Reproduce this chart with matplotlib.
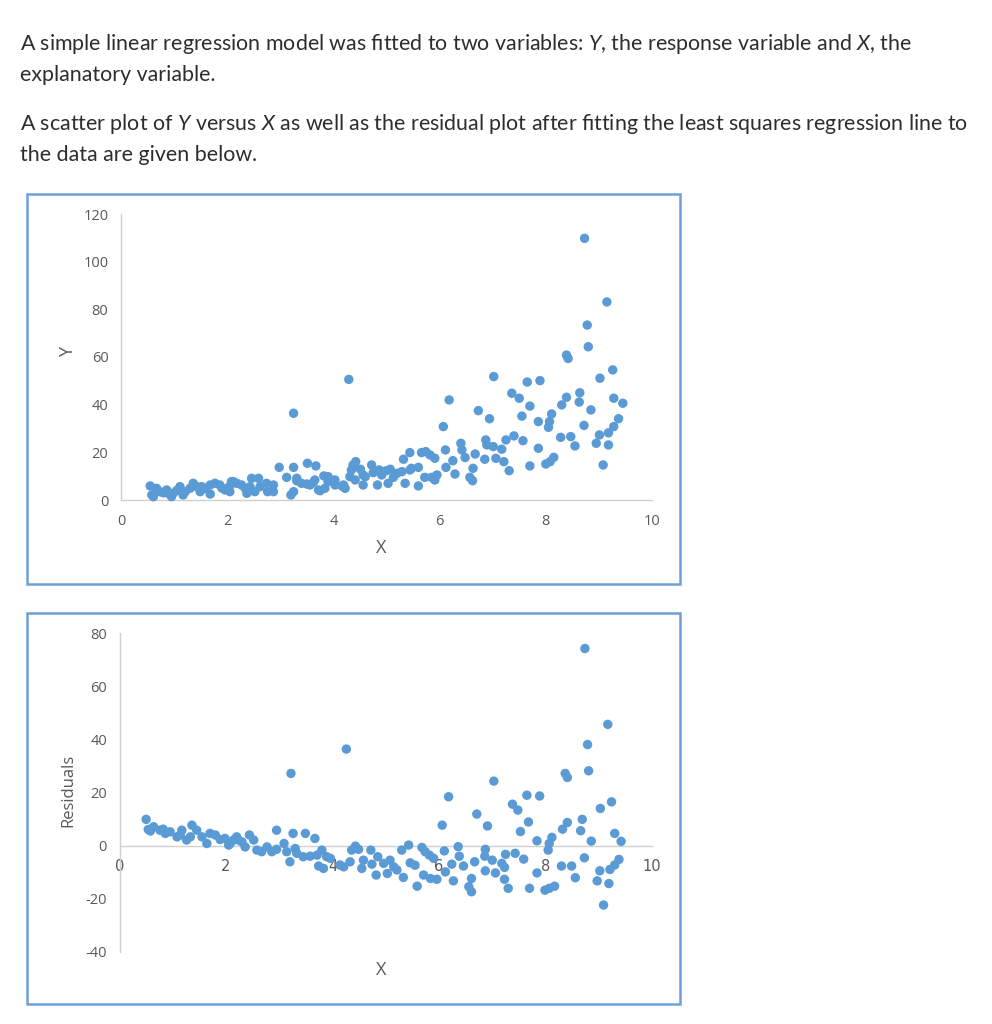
import matplotlib
matplotlib.use("Agg")
import matplotlib.pyplot as plt
from matplotlib.patches import Rectangle

plt.rcParams['mathtext.fontset'] = 'custom'
plt.rcParams['mathtext.rm'] = 'Lato'
plt.rcParams['mathtext.it'] = 'Lato:italic'
plt.rcParams['axes.unicode_minus'] = False

# scatter plot of Y versus X
x_top = [0.55, 0.58, 0.61, 0.67, 0.73, 0.80, 0.86, 0.89, 0.95, 0.98, 1.05, 1.11, 1.17, 1.21,
         1.30, 1.36, 1.43, 1.49, 1.52, 1.58, 1.68, 1.68, 1.77, 1.86, 1.90, 1.96, 2.04, 2.05,
         2.08, 2.12, 2.18, 2.27, 2.34, 2.37, 2.43, 2.46, 2.52, 2.59, 2.62, 2.74, 2.76, 2.87,
         2.87, 2.98, 3.12, 3.20, 3.25, 3.25, 3.25, 3.31, 3.31, 3.40, 3.50, 3.51, 3.56, 3.62,
         3.65, 3.67, 3.72, 3.75, 3.82, 3.84, 3.90, 3.90, 4.03, 4.03, 4.16, 4.19, 4.22, 4.29,
         4.31, 4.34, 4.37, 4.42, 4.41, 4.51, 4.56, 4.56, 4.60, 4.72, 4.75, 4.83, 4.86, 4.91,
         5.00, 5.03, 5.07, 5.13, 5.20, 5.29, 5.32, 5.35, 5.44, 5.44, 5.47, 5.60, 5.60, 5.66,
         5.74, 5.72, 5.82, 5.85, 5.91, 5.91, 5.95, 6.07, 6.11, 6.12, 6.18, 6.25, 6.29, 6.40,
         6.42, 6.48, 6.57, 6.62, 6.63, 6.67, 6.73, 6.85, 6.87, 6.89, 6.94, 7.01, 7.02, 7.06,
         7.17, 7.21, 7.25, 7.31, 7.36, 7.40, 7.50, 7.55, 7.57, 7.65, 7.70, 7.70, 7.86, 7.86,
         7.89, 8.00, 8.05, 8.07, 8.08, 8.11, 8.15, 8.28, 8.30, 8.39, 8.39, 8.42, 8.47, 8.55,
         8.63, 8.64, 8.72, 8.73, 8.78, 8.80, 8.85, 8.95, 9.01, 9.02, 9.08, 9.15, 9.18, 9.18,
         9.26, 9.28, 9.28, 9.37, 9.45]
y_top = [5.9, 2.1, 1.4, 4.9, 3.5, 3.0, 4.2, 2.8, 1.4, 2.8, 4.0, 5.6, 2.1, 3.5,
         4.9, 7.0, 5.6, 3.5, 5.6, 4.9, 6.3, 2.5, 7.0, 6.3, 5.0, 4.2, 5.6, 3.5,
         7.7, 7.7, 7.0, 6.3, 4.9, 2.8, 5.6, 9.1, 3.5, 9.1, 5.6, 7.0, 3.5, 6.3,
         3.5, 13.7, 9.5, 2.1, 36.4, 13.7, 3.5, 8.1, 9.1, 7.0, 6.7, 15.4, 6.3, 7.3,
         8.4, 14.3, 4.2, 3.9, 10.1, 4.9, 7.7, 9.8, 8.4, 6.3, 5.9, 6.3, 4.9, 50.6,
         9.8, 12.6, 14.7, 16.1, 8.4, 12.9, 10.5, 6.3, 9.8, 14.7, 11.5, 6.3, 12.6, 10.5,
         12.3, 7.0, 12.9, 9.5, 11.2, 11.9, 17.1, 7.0, 19.9, 12.6, 13.3, 13.7, 5.9, 19.9,
         20.3, 9.5, 18.9, 9.5, 17.5, 8.4, 10.5, 30.8, 21.0, 13.7, 42.0, 16.5, 10.9, 23.8,
         21.0, 17.8, 9.5, 8.1, 13.3, 19.3, 37.5, 17.1, 25.2, 23.1, 34.1, 22.4, 51.8, 17.5,
         21.3, 16.1, 25.2, 12.3, 44.8, 26.9, 42.7, 35.2, 24.9, 49.5, 39.4, 14.3, 32.9, 21.7,
         50.1, 15.1, 30.5, 32.9, 16.1, 36.1, 17.9, 26.3, 39.9, 43.1, 60.8, 59.4, 26.6, 22.7,
         41.1, 45.0, 31.3, 109.8, 73.4, 64.3, 37.8, 23.8, 27.3, 51.1, 14.7, 83.1, 28.2, 23.1,
         54.6, 42.7, 30.8, 34.1, 40.6]

# residual plot
x_res = [0.50, 0.54, 0.58, 0.64, 0.76, 0.82, 0.86, 0.95, 1.08, 1.14, 1.17, 1.26, 1.33, 1.36,
         1.45, 1.55, 1.64, 1.70, 1.80, 1.89, 1.98, 2.05, 2.08, 2.14, 2.20, 2.23, 2.30, 2.36,
         2.44, 2.52, 2.58, 2.67, 2.77, 2.86, 2.95, 2.95, 3.09, 3.14, 3.20, 3.22, 3.26, 3.30,
         3.33, 3.45, 3.49, 3.58, 3.67, 3.71, 3.74, 3.80, 3.83, 3.89, 3.96, 4.14, 4.21, 4.26,
         4.33, 4.36, 4.43, 4.49, 4.55, 4.58, 4.72, 4.74, 4.82, 4.85, 4.96, 5.03, 5.08, 5.15,
         5.21, 5.30, 5.33, 5.43, 5.46, 5.55, 5.59, 5.68, 5.74, 5.82, 5.90, 5.71, 5.84, 5.96,
         6.06, 6.10, 6.12, 6.18, 6.24, 6.27, 6.36, 6.38, 6.46, 6.56, 6.61, 6.61, 6.67, 6.71,
         6.86, 6.87, 6.87, 6.91, 7.00, 7.03, 7.06, 7.18, 7.23, 7.23, 7.25, 7.30, 7.38, 7.43,
         7.48, 7.53, 7.59, 7.65, 7.68, 7.70, 7.84, 7.84, 7.89, 7.99, 8.05, 8.07, 8.07, 8.12,
         8.17, 8.30, 8.32, 8.37, 8.41, 8.41, 8.49, 8.56, 8.66, 8.69, 8.73, 8.74, 8.79, 8.81,
         8.86, 8.97, 9.02, 9.03, 9.09, 9.17, 9.19, 9.21, 9.24, 9.30, 9.30, 9.38, 9.42]
r_res = [9.9, 6.1, 5.5, 7.1, 5.8, 6.2, 4.6, 5.2, 3.3, 4.0, 5.8, 2.1, 3.3, 7.7,
         5.8, 3.3, 0.8, 4.6, 4.0, 2.3, 2.7, 0.2, 0.8, 2.1, 3.3, 2.1, 1.4, -0.5,
         4.0, 2.1, -1.7, -2.3, -0.5, -2.3, -1.4, 5.8, 0.8, -2.3, -6.1, 27.2, 4.6, -1.1,
         -2.9, -4.2, 4.6, -4.0, 2.7, -3.6, -7.7, -1.7, -8.6, -4.2, -4.8, -7.3, -8.0, 36.4,
         -6.1, -1.7, -0.2, -1.4, -8.6, -5.5, -1.7, -7.0, -11.1, -4.2, -6.7, -10.5, -5.5, -8.0,
         -9.2, -1.7, -12.0, 0.2, -6.5, -7.4, -15.3, -0.7, -2.3, -3.6, -4.8, -11.1, -12.4, -12.7,
         7.7, -2.0, -9.9, 18.4, -7.0, -13.3, -0.4, -4.0, -7.7, -15.5, -12.4, -17.4, -6.1, 11.9,
         -4.0, -1.4, -9.5, 7.4, -5.5, 24.3, -10.3, -6.7, -8.2, -12.7, -3.3, -16.1, 15.6, -2.9,
         13.4, 5.3, -5.1, 19.0, 8.9, -16.1, 1.8, -10.3, 18.7, -16.8, -1.7, 0.8, -16.1, 3.1,
         -15.3, -7.7, 6.2, 27.2, 25.7, 8.7, -7.7, -12.1, 5.6, 9.9, -4.6, 74.3, 38.1, 28.2,
         1.7, -13.3, -9.5, 14.0, -22.4, 45.7, -14.3, -9.0, 16.5, 4.6, -7.3, -5.2, 1.6]

x_ticks = [0, 2, 4, 6, 8, 10]
y_ticks_top = [0, 20, 40, 60, 80, 100, 120]
y_ticks_res = [-40, -20, 0, 20, 40, 60, 80]

intro = [
    "A simple linear regression model was ﬁtted to two variables: $Y$, the response variable and $X$, the",
    "explanatory variable.",
    "A scatter plot of $Y$ versus $X$ as well as the residual plot after ﬁtting the least squares regression line to",
    "the data are given below.",
]

W, H = 992, 1024
dot = '#5b9bd5'
axis_col = '#d0d0d0'
lab_col = '#595959'
box_col = '#6e9fd6'

fig = plt.figure(figsize=(W / 100, H / 100), dpi=100)

for txt, yp in zip(intro, [44, 75, 124, 155]):
    fig.text(20 / W, 1 - yp / H, txt, fontsize=15.4, family=['Lato', 'DejaVu Sans'],
             color='#2d2d2d', va='center', ha='left')

# frames around the two charts
for y0, y1 in [(194, 584), (613, 1004)]:
    fig.patches.append(Rectangle((27 / W, 1 - y1 / H), 653 / W, (y1 - y0) / H,
                                 transform=fig.transFigure, fill=False,
                                 edgecolor=box_col, lw=1.8))


def style(ax, yt):
    for s in ['top', 'right']:
        ax.spines[s].set_visible(False)
    for s in ['left', 'bottom']:
        ax.spines[s].set_color(axis_col)
        ax.spines[s].set_linewidth(1.0)
    ax.set_xticks(x_ticks)
    ax.set_yticks(yt)
    ax.tick_params(length=0, labelsize=10.5, labelcolor=lab_col)
    ax.tick_params(axis='y', pad=9)
    for lbl in ax.get_xticklabels() + ax.get_yticklabels():
        lbl.set_family('Open Sans')
    ax.set_facecolor('none')


ax1 = fig.add_axes([121 / W, 1 - 500 / H, 531 / W, 286 / H])
ax1.scatter(x_top, y_top, s=46, color=dot, edgecolors='none', clip_on=False, zorder=3)
ax1.set_xlim(0, 10)
ax1.set_ylim(0, 120)
style(ax1, y_ticks_top)
ax1.tick_params(axis='x', pad=10)

ax2 = fig.add_axes([119.5 / W, 1 - 951.7 / H, 532.5 / W, 318.3 / H])
ax2.scatter(x_res, r_res, s=46, color=dot, edgecolors='none', clip_on=False, zorder=3)
ax2.set_xlim(0, 10)
ax2.set_ylim(-40, 80)
style(ax2, y_ticks_res)
ax2.spines['bottom'].set_position(('data', 0))
ax2.tick_params(axis='x', pad=10)

fig.text(381 / W, 1 - 548 / H, 'X', fontsize=13, color=lab_col, family='Open Sans',
         ha='center', va='center')
fig.text(381 / W, 1 - 970 / H, 'X', fontsize=13, color=lab_col, family='Open Sans',
         ha='center', va='center')
fig.text(68 / W, 1 - 352 / H, 'Y', fontsize=13, color=lab_col, family='Open Sans',
         rotation=90, ha='center', va='center')
fig.text(68 / W, 1 - 790 / H, 'Residuals', fontsize=12, color=lab_col, family='Open Sans',
         rotation=90, ha='center', va='center')

fig.savefig('out.png', dpi=100, facecolor='white')
